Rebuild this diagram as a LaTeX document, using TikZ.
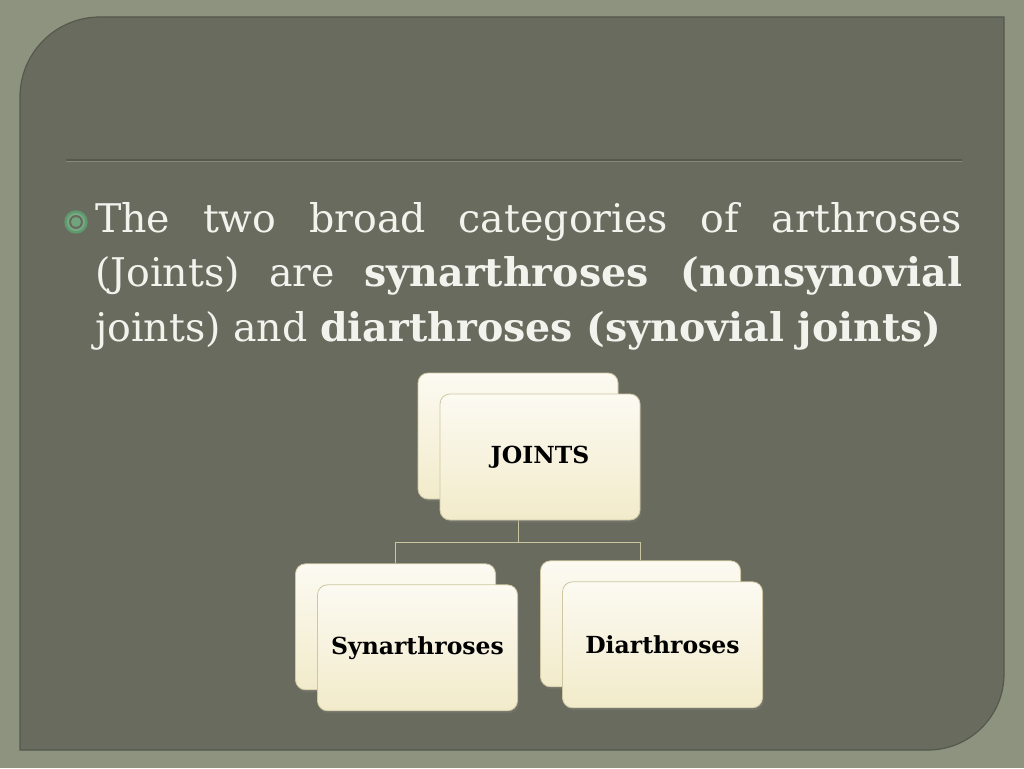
\documentclass[tikz,border=0pt]{standalone}
\usepackage{fontspec}
\setmainfont{DejaVu Serif}
\usetikzlibrary{positioning,shadows}
\definecolor{outerbg}{HTML}{8D937F}
\definecolor{panelbg}{HTML}{696B5E}
\definecolor{paneledge}{HTML}{55584C}
\definecolor{boxtop}{HTML}{FCFAF2}
\definecolor{boxbot}{HTML}{F2EBCA}
\definecolor{boxline}{HTML}{CFC7A2}
\definecolor{linec}{HTML}{CBC6A2}
\definecolor{bulgreen}{HTML}{5F9A6E}
\definecolor{bultext}{HTML}{F3F3EE}
\tikzstyle{bbox}=[rectangle, rounded corners=10pt, draw=boxline, line width=0.8pt,
                  top color=boxtop, bottom color=boxbot, minimum width=200pt,
                  minimum height=126pt, inner sep=2pt, text centered,
                  drop shadow={shadow xshift=1.5pt, shadow yshift=-2.5pt, opacity=0.35}]
\tikzstyle{fbox}=[bbox, font=\fontsize{23.5}{27}\selectfont\bfseries]
\tikzstyle{cline}=[-, draw=linec, line width=0.9pt]
\tikzstyle{btext}=[inner sep=0pt, text width=867pt, align=justify, text=bultext,
                   font=\fontsize{39.5}{54.5}\selectfont]

\begin{document}
\begin{tikzpicture}[x=1pt, y=1pt]

\fill[outerbg] (0,0) rectangle (1024,-768);
\useasboundingbox (0,0) rectangle (1024,-768);
\fill[panelbg, draw=paneledge, line width=1.2pt] (20,-750) -- (20,-97)
  arc[start angle=180, end angle=90, radius=80] -- (1004,-17) -- (1004,-674)
  arc[start angle=0, end angle=-90, radius=76] -- cycle;
\draw[paneledge, line width=1.4pt] (66,-160) -- (962,-160);
\draw[panelbg!80!white, line width=0.8pt] (66,-161.6) -- (962,-161.6);

\node (BUL) [circle, draw=bulgreen, line width=2.4pt, minimum size=21pt, inner sep=0pt,
             fill=bulgreen!85!white, path picture={\fill[panelbg] (path picture bounding box.center) circle (7);
             \fill[bulgreen!90!white] (path picture bounding box.center) circle (5);}] at (76,-222) {};
\node (TXT) [btext, anchor=north west] at (95,-202) {The two broad categories of arthroses\linebreak
 (Joints) are \textbf{synarthroses (nonsynovial}\linebreak
 joints) and \textbf{diarthroses (synovial joints)}};

\node (JOINTSB) [bbox] at (518,-436) {};
\node (SYNB) [bbox, below=64pt of JOINTSB, xshift=-122.5pt] {};
\node (DIAB) [bbox, below=61pt of JOINTSB, xshift=122.5pt] {};
 \draw[cline] (JOINTSB.south) -- ++(0,-43) -| (SYNB.north);
 \draw[cline] (JOINTSB.south) -- ++(0,-43) -| (DIAB.north);
\node (JOINTS) [fbox, xshift=22pt, yshift=-21pt] at (JOINTSB) {JOINTS};
\node (SYN) [fbox, xshift=22pt, yshift=-21pt] at (SYNB) {Synarthroses};
\node (DIA) [fbox, xshift=22pt, yshift=-21pt] at (DIAB) {Diarthroses};

\end{tikzpicture}
\end{document}
